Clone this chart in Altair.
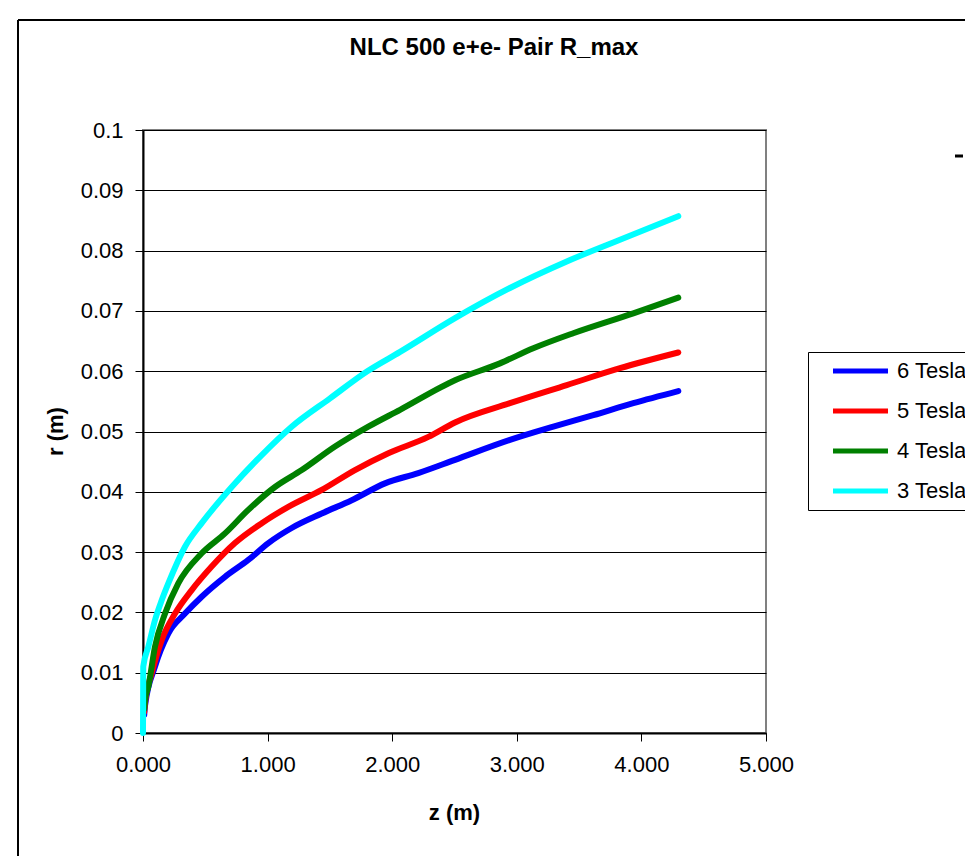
import altair as alt
import pandas as pd

title_text = "NLC 500 e+e- Pair R_max"
series_names = ["6 Tesla", "5 Tesla", "4 Tesla", "3 Tesla"]
series_colors = ["#0000FF", "#FF0000", "#008000", "#00FFFF"]

z_6 = [0.010, 0.016, 0.096, 0.203, 0.337, 0.471, 0.658, 0.845, 1.006, 1.193, 1.434, 1.675,
       1.942, 2.209, 2.504, 2.945, 3.293, 3.614, 3.935, 4.296]
r_6 = [0.0030, 0.0045, 0.0110, 0.0165, 0.0198, 0.0226, 0.0259, 0.0287, 0.0315, 0.0340, 0.0364, 0.0386,
       0.0414, 0.0431, 0.0453, 0.0486, 0.0508, 0.0527, 0.0547, 0.0567]

z_5 = [0.010, 0.016, 0.070, 0.150, 0.257, 0.391, 0.551, 0.738, 0.953, 1.166, 1.434, 1.701,
       1.969, 2.290, 2.504, 2.945, 3.401, 3.828, 4.296]
r_5 = [0.0035, 0.0050, 0.0099, 0.0154, 0.0198, 0.0237, 0.0276, 0.0315, 0.0348, 0.0375, 0.0403, 0.0436,
       0.0464, 0.0491, 0.0515, 0.0547, 0.0577, 0.0605, 0.0631]

z_4 = [0.010, 0.016, 0.043, 0.096, 0.177, 0.283, 0.471, 0.658, 0.845, 1.059, 1.274, 1.541,
       1.808, 2.063, 2.504, 2.865, 3.132, 3.453, 3.935, 4.296]
r_4 = [0.0040, 0.0055, 0.0077, 0.0143, 0.0198, 0.0248, 0.0298, 0.0331, 0.0370, 0.0408, 0.0436, 0.0475,
       0.0508, 0.0536, 0.0585, 0.0613, 0.0638, 0.0663, 0.0696, 0.0722]

z_3 = [0.000, 0.002, 0.043, 0.096, 0.150, 0.203, 0.337, 0.471, 0.712, 0.953, 1.193, 1.501,
       1.800, 2.063, 2.504, 2.945, 3.401, 3.828, 4.296]
r_3 = [0.0000, 0.0110, 0.0143, 0.0187, 0.0220, 0.0248, 0.0309, 0.0348, 0.0408, 0.0461, 0.0508, 0.0555,
       0.0600, 0.0632, 0.0688, 0.0738, 0.0782, 0.0818, 0.0857]

y_ticks = [0.0, 0.01, 0.02, 0.03, 0.04, 0.05, 0.06, 0.07, 0.08, 0.09, 0.1]
x_ticks = [0.0, 1.0, 2.0, 3.0, 4.0, 5.0]

rows = []
for order, (name, zs, rs) in enumerate(zip(series_names, [z_6, z_5, z_4, z_3], [r_6, r_5, r_4, r_3])):
    for i, (zv, rv) in enumerate(zip(zs, rs)):
        rows.append({"series": name, "z": zv, "r": rv, "ord": order, "i": i})
df = pd.DataFrame(rows)

FONT = "Liberation Sans"

lines = alt.Chart(df).mark_line(strokeWidth=6, strokeCap="round", strokeJoin="round",
                                interpolate="monotone").encode(
    x=alt.X("z:Q", scale=alt.Scale(domain=[0, 5], nice=False),
            axis=alt.Axis(values=x_ticks, format=".3f", title="z (m)", grid=False, labelFlush=False,
                          tickSize=8, tickColor="black", domainColor="black", domainWidth=2,
                          labelFontSize=22, labelFont=FONT, labelColor="black", labelPadding=13,
                          titleFont=FONT, titleFontSize=22, titleFontWeight="bold", titleColor="black",
                          titleX=311, titleY=79, titleBaseline="middle", titleAlign="center")),
    y=alt.Y("r:Q", scale=alt.Scale(domain=[0, 0.1], nice=False),
            axis=alt.Axis(values=y_ticks, labelExpr="format(datum.value, '~g')", title="r (m)",
                          grid=True, gridColor="black", gridWidth=1, labelFlush=False,
                          tickSize=8, tickColor="black", domainColor="black", domainWidth=2,
                          labelFontSize=22, labelFont=FONT, labelColor="black", labelPadding=12,
                          titleFont=FONT, titleFontSize=22, titleFontWeight="bold", titleColor="black",
                          titleX=-88, titleY=301, titleAngle=-90, titleBaseline="middle",
                          titleAlign="center")),
    color=alt.Color("series:N", sort=series_names,
                    scale=alt.Scale(domain=series_names, range=series_colors),
                    legend=alt.Legend(title=None, orient="none", legendX=665, legendY=222,
                                      strokeColor="black", fillColor="white", padding=8,
                                      rowPadding=18, symbolType="M1.2,0H12.2", symbolSize=100,
                                      symbolStrokeWidth=5, labelOffset=59,
                                      labelFont=FONT, labelFontSize=22, labelColor="black")),
    detail="ord:O",
    order="i:Q",
)

frame_df = pd.DataFrame({"k": [0]})
frame_v = alt.Chart(frame_df).mark_rule(color="black", strokeWidth=2).encode(
    x=alt.value(-125), y=alt.value(-110), y2=alt.value(726))
frame_h = alt.Chart(frame_df).mark_rule(color="black", strokeWidth=2).encode(
    x=alt.value(-125), x2=alt.value(822), y=alt.value(-110))
dash = alt.Chart(frame_df).mark_rule(color="black", strokeWidth=3).encode(
    x=alt.value(812), x2=alt.value(820), y=alt.value(26))
title_mark = alt.Chart(frame_df).mark_text(
    font=FONT, fontSize=24, fontWeight="bold", color="black", align="center", baseline="middle"
).encode(x=alt.value(351), y=alt.value(-82), text=alt.value(title_text))

chart = alt.layer(frame_v, frame_h, dash, title_mark, lines).properties(
    width=623, height=603,
    padding={"left": 143, "top": 130, "right": 199, "bottom": 123},
    autosize="none",
    background="white",
).configure_view(stroke="#808080", strokeWidth=2)

chart.save("out.html", embed_options={"renderer": "svg", "actions": False})
